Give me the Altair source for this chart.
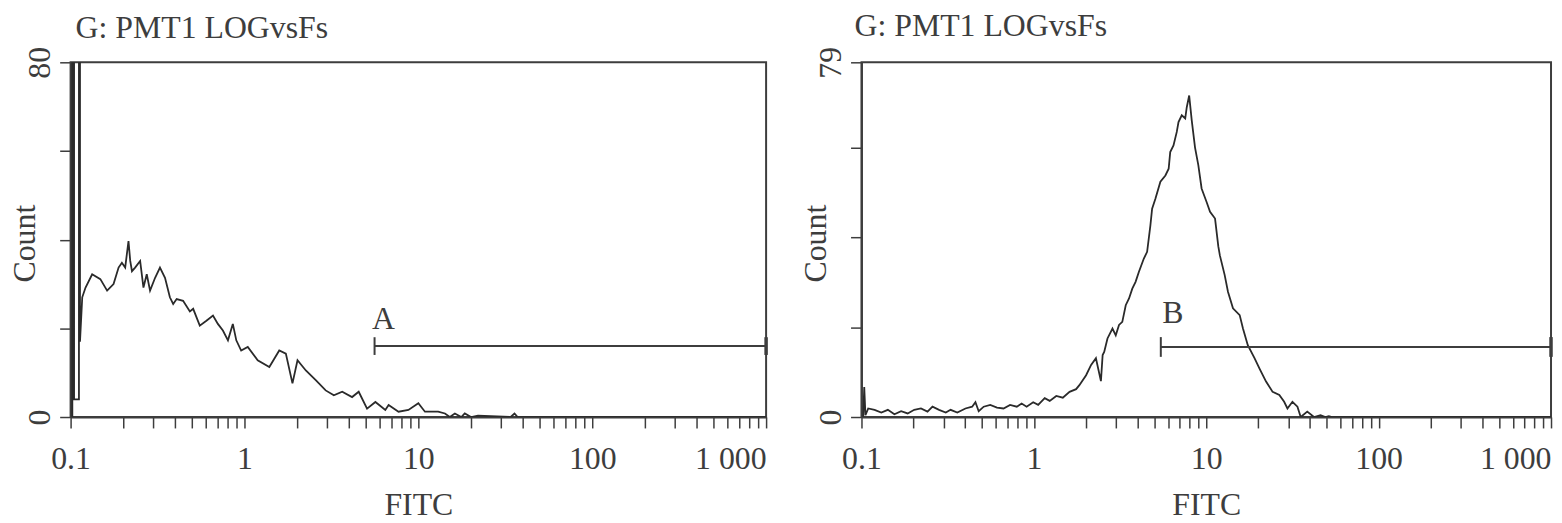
import altair as alt
import pandas as pd

FONT = "Liberation Serif"
INK = "#3d3d3d"
FS = 32

# ---------------- data (log10 of FITC, counts) ----------------
left_log = [-0.99, -0.99, -0.98, -0.98, -0.952, -0.952, -0.946, -0.946, -0.933, -0.914,
            -0.876, -0.829, -0.790, -0.753, -0.724, -0.705, -0.686, -0.667, -0.657, -0.647,
            -0.629, -0.600, -0.581, -0.562, -0.543, -0.514, -0.486, -0.457, -0.429, -0.410,
            -0.390, -0.353, -0.314, -0.295, -0.257, -0.219, -0.181, -0.153, -0.124, -0.095,
            -0.067, -0.047, -0.019, 0.019, 0.076, 0.143, 0.200, 0.238, 0.276, 0.305,
            0.353, 0.410, 0.467, 0.514, 0.562, 0.619, 0.657, 0.705, 0.753, 0.810,
            0.829, 0.886, 0.943, 1.000, 1.038, 1.114, 1.153, 1.181, 1.210, 1.247,
            1.267, 1.303, 1.343, 1.531, 1.553, 1.571, 3.0]
left_count = [0, 80, 80, 4, 4, 80, 80, 17, 27.0, 29.2,
              32.2, 31.1, 28.5, 30.0, 33.7, 34.8, 33.7, 39.7, 35.2, 32.9,
              33.7, 35.2, 29.2, 32.2, 28.5, 31.4, 33.7, 31.4, 27.0, 25.5,
              26.6, 26.2, 23.8, 24.4, 20.6, 21.7, 22.9, 21.0, 19.5, 17.3,
              21.0, 17.3, 15.0, 15.8, 12.8, 11.3, 15.0, 14.3, 7.6, 12.8,
              10.5, 8.3, 6.0, 4.9, 5.7, 4.5, 5.7, 1.9, 3.4, 1.6,
              2.7, 1.2, 1.6, 3.1, 1.2, 1.2, 0.8, 0, 0.8, 0,
              0.8, 0, 0.3, 0, 0.8, 0, 0]

right_log = [-0.99, -0.984, -0.977, -0.961, -0.924, -0.885, -0.847, -0.809, -0.770, -0.732,
             -0.694, -0.655, -0.617, -0.588, -0.550, -0.511, -0.483, -0.444, -0.397, -0.358,
             -0.339, -0.320, -0.291, -0.253, -0.214, -0.176, -0.138, -0.099, -0.071, -0.042,
             -0.004, 0.025, 0.063, 0.092, 0.130, 0.168, 0.207, 0.245, 0.264, 0.303,
             0.332, 0.360, 0.389, 0.399, 0.408, 0.427, 0.456, 0.475, 0.494, 0.513,
             0.533, 0.552, 0.571, 0.590, 0.609, 0.638, 0.657, 0.676, 0.686, 0.705,
             0.734, 0.763, 0.782, 0.791, 0.810, 0.829, 0.839, 0.858, 0.878, 0.887,
             0.901, 0.916, 0.935, 0.954, 0.973, 1.002, 1.022, 1.051, 1.070, 1.079,
             1.107, 1.126, 1.155, 1.194, 1.213, 1.241, 1.280, 1.309, 1.347, 1.385,
             1.424, 1.452, 1.471, 1.500, 1.529, 1.548, 1.586, 1.625, 1.663, 1.691,
             1.711, 1.730, 3.0]
right_count = [0, 6.7, 0.4, 1.9, 1.6, 1.0, 1.6, 0.6, 1.3, 0.8,
               1.6, 1.9, 1.2, 2.3, 1.6, 1.0, 1.6, 1.0, 1.9, 2.3,
               3.3, 1.3, 2.3, 2.7, 2.1, 1.9, 2.7, 2.3, 3.0, 2.3,
               3.3, 2.7, 4.2, 3.6, 4.7, 4.3, 5.6, 6.2, 7.1, 9.3,
               11.6, 13.1, 8.0, 13.8, 14.5, 17.5, 19.7, 18.2, 20.5, 21.2,
               24.9, 26.4, 28.6, 30.1, 32.3, 35.3, 36.8, 42.7, 46.4, 48.6,
               52.4, 53.8, 55.3, 59.0, 60.5, 63.5, 65.7, 67.2, 66.5, 69.0,
               71.6, 66.0, 60.0, 56.1, 50.9, 47.9, 45.7, 44.2, 38.0, 36.0,
               31.6, 27.9, 24.2, 22.7, 19.7, 16.0, 13.1, 10.8, 7.9, 5.6,
               4.9, 3.4, 1.9, 3.4, 2.3, 0, 1.2, 0, 0.4, 0,
               0.2, 0, 0]

titles = ["G: PMT1 LOGvsFs", "G: PMT1 LOGvsFs"]
y_max = [80, 79]
y_ticks = [[0, 20, 40, 60, 80], [0, 20, 40, 60, 79]]
gate_names = ["A", "B"]
gate_start = [5.6, 5.45]
gate_end = [1000, 1000]
gate_level = [16.0, 15.6]
gate_cap = [2.0, 2.2]
gate_label_x = [6.3, 6.4]
gate_label_y = [19.9, 20.9]

x_decades = [0.1, 1, 10, 100, 1000]
x_decade_labels = ["0.1", "1", "10", "100", "1 000"]
x_ticks = [m * d for d in [0.1, 1, 10, 100] for m in range(1, 10)] + [1000]

label_expr = " : ".join(
    f"datum.value == {v} ? '{t}'" for v, t in zip(x_decades, x_decade_labels)
) + " : ''"


def panel(k, logs, counts, width, height, title_dx, title_offset):
    df = pd.DataFrame({
        "FITC": [10 ** v for v in logs],
        "Count": counts,
        "i": list(range(len(logs))),
    })
    xscale = alt.Scale(type="log", domain=[0.1, 1000], nice=False)
    yscale = alt.Scale(domain=[0, y_max[k]], nice=False, zero=True)
    xaxis = alt.Axis(
        values=x_ticks, labelExpr=label_expr, title="FITC", grid=False,
        labelAlign={"condition": {"test": "datum.value >= 1000", "value": "right"}, "value": "center"},
        labelFlush=False, labelOverlap=False,
        tickSize=11, labelPadding=16, titlePadding=15,
    )
    ylab = f"datum.value == 0 || datum.value == {y_max[k]} ? datum.label : ''"
    yaxis = alt.Axis(
        values=y_ticks[k], labelExpr=ylab, title="Count", grid=False,
        labelAngle=270, labelAlign="center", labelBaseline="bottom",
        tickSize=11, labelPadding=3,
        titleX=-46, titleY=182, titleBaseline="middle", titleAngle=270,
    )
    line = alt.Chart(df).mark_line(color="#2a2a2a", strokeWidth=1.8, clip=True, interpolate="linear").encode(
        x=alt.X("FITC:Q", scale=xscale, axis=xaxis),
        y=alt.Y("Count:Q", scale=yscale, axis=yaxis),
        order="i:Q",
    )
    gdf = pd.DataFrame({"x1": [gate_start[k]], "x2": [gate_end[k]], "y": [gate_level[k]],
                        "lo": [gate_level[k] - gate_cap[k]], "hi": [gate_level[k] + gate_cap[k]]})
    gate = alt.Chart(gdf).mark_rule(color=INK, strokeWidth=2).encode(
        x=alt.X("x1:Q", scale=xscale), x2="x2:Q", y=alt.Y("y:Q", scale=yscale))
    capl = alt.Chart(gdf).mark_rule(color=INK, strokeWidth=2).encode(
        x=alt.X("x1:Q", scale=xscale), y=alt.Y("lo:Q", scale=yscale), y2="hi:Q")
    capr = alt.Chart(gdf).mark_rule(color=INK, strokeWidth=3.5).encode(
        x=alt.X("x2:Q", scale=xscale), y=alt.Y("lo:Q", scale=yscale), y2="hi:Q")
    ldf = pd.DataFrame({"x": [gate_label_x[k]], "y": [gate_label_y[k]], "t": [gate_names[k]]})
    lab = alt.Chart(ldf).mark_text(font=FONT, fontSize=FS, color=INK, baseline="alphabetic",
                                   align="center").encode(
        x=alt.X("x:Q", scale=xscale), y=alt.Y("y:Q", scale=yscale), text="t:N")
    return alt.layer(line, gate, capl, capr, lab).properties(
        width=width, height=height,
        title=alt.TitleParams(titles[k], anchor="start", frame="group", dx=title_dx, font=FONT,
                              fontSize=FS, fontWeight="normal", color=INK, baseline="alphabetic",
                              offset=title_offset),
    )


left = panel(0, left_log, left_count, 700, 357, 5, -24)
right = panel(1, right_log, right_count, 694, 357, -7, -22)

chart = alt.hconcat(left, right, spacing=30).properties(
    padding={"left": 0, "top": 0, "right": 0, "bottom": 0}
).configure_axis(
    labelFont=FONT, labelFontSize=FS, labelColor=INK,
    titleFont=FONT, titleFontSize=FS, titleColor=INK, titleFontWeight="normal",
    domainColor=INK, domainWidth=2, tickColor=INK, tickWidth=1.5,
).configure_view(stroke=INK, strokeWidth=2)

chart.save("out.html", embed_options={"renderer": "svg", "actions": False})
